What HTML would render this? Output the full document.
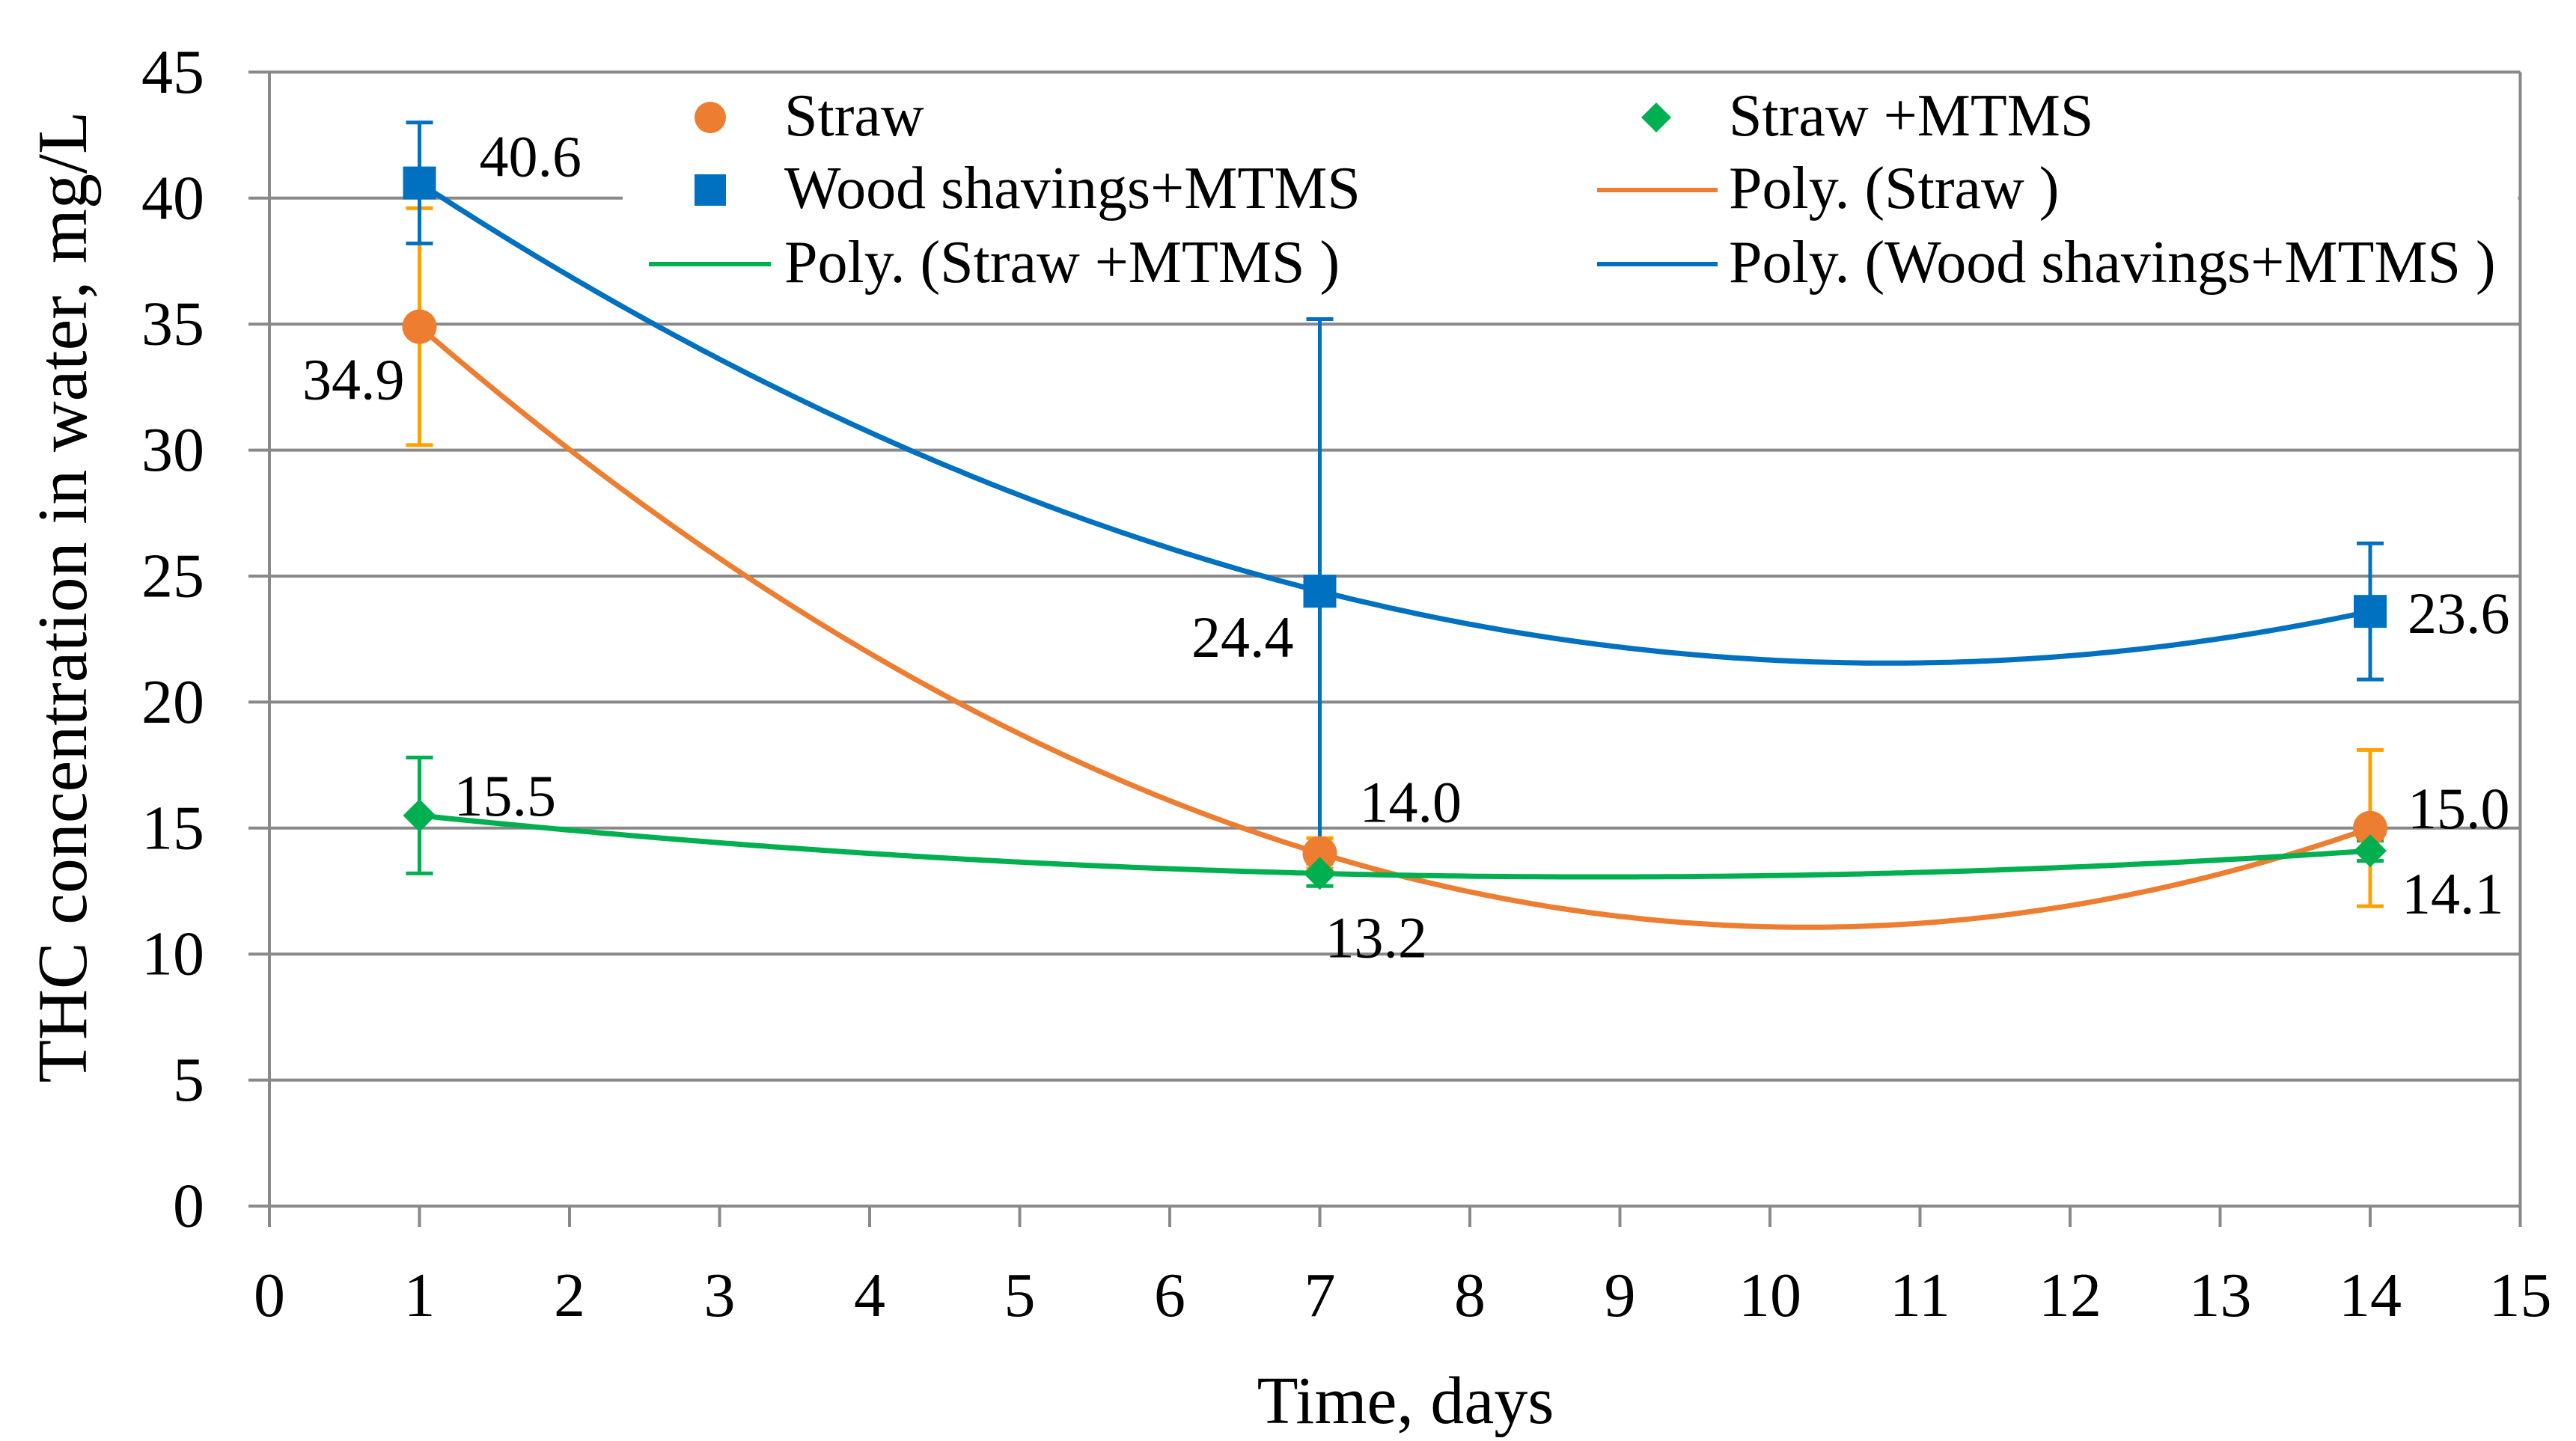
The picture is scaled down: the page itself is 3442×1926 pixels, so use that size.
<!DOCTYPE html>
<html><head><meta charset="utf-8"><style>
html,body{margin:0;padding:0;background:#fff;}
svg text{font-family:"Liberation Serif",serif;fill:#000;}
</style></head><body>
<svg id="chart" width="3442" height="1921" xmlns="http://www.w3.org/2000/svg">
<g id="grid"></g>
<g id="axes"></g>
<g id="legend"></g>
<g id="series"></g>
<text x="1878" y="1902" font-size="90" text-anchor="middle">Time, days</text>
<text transform="translate(84,798) rotate(-90)" font-size="94" text-anchor="middle" dominant-baseline="central">THC concentration in water, mg/L</text>
</svg>
<script>
const days = [1, 7, 14];
const strawVals = [34.9, 14.0, 15.0];
const strawErr = [4.7, 0.6, 3.1];
const woodVals = [40.6, 24.4, 23.6];
const woodErr = [2.4, 10.8, 2.7];
const mtmsVals = [15.5, 13.2, 14.1];
const mtmsErr = [2.3, 0.5, 0.4];
const xTicks = [0,1,2,3,4,5,6,7,8,9,10,11,12,13,14,15];
const yTicks = [0,5,10,15,20,25,30,35,40,45];
const strawLabels = ["34.9","14.0","15.0"];
const woodLabels = ["40.6","24.4","23.6"];
const mtmsLabels = ["15.5","13.2","14.1"];

const NS="http://www.w3.org/2000/svg";
const X0=360, XU=200.5, Y0=1612, YU=33.68;
const sx=v=>X0+v*XU, sy=v=>Y0-v*YU;
function mk(tag,attrs,parent){const e=document.createElementNS(NS,tag);for(const k in attrs)e.setAttribute(k,attrs[k]);parent.appendChild(e);return e;}
const grid=document.getElementById('grid'),axes=document.getElementById('axes'),legend=document.getElementById('legend'),series=document.getElementById('series');
const GC="#898989";
yTicks.forEach(t=>{
  const l=mk('line',{x1:sx(0)-28,x2:sx(15),y1:sy(t),y2:sy(t),stroke:GC,'stroke-width':4},grid);
  
  
  const tx=mk('text',{x:273,y:sy(t),'font-size':84,'text-anchor':'end','dominant-baseline':'central'},axes);
  tx.textContent=t;
  
  
});
xTicks.forEach(t=>{
  const l=mk('line',{x1:sx(t),x2:sx(t),y1:sy(0),y2:sy(0)+28,stroke:GC,'stroke-width':4},axes);
  
  
  const tx=mk('text',{x:sx(t),y:1759,'font-size':84,'text-anchor':'middle'},axes);
  tx.textContent=t;
  
  
});
const la=mk('line',{x1:sx(0),x2:sx(0),y1:sy(45),y2:sy(0)+28,stroke:GC,'stroke-width':4},axes);


const ra=mk('line',{x1:sx(15),x2:sx(15),y1:sy(45),y2:sy(0)+28,stroke:GC,'stroke-width':4},axes);



const lb=mk('rect',{x:832,y:110,width:sx(15)-832-3,height:300,fill:'#fff'},legend);



function quad(xs,ys){
  return x=>{let s=0;for(let i=0;i<3;i++){let p=ys[i];for(let j=0;j<3;j++)if(j!==i)p*=(x-xs[j])/(xs[i]-xs[j]);s+=p;}return s;};
}
const defs=[
 {name:'straw',vals:strawVals,err:strawErr,col:'#ED7D31',ecol:'#FFA000',marker:'circle',labels:strawLabels,offs:[[-20,97,'end'],[53,-42,'start'],[50,0,'start']]},
 {name:'wood',vals:woodVals,err:woodErr,col:'#0070C0',ecol:'#0070C0',marker:'square',labels:woodLabels,offs:[[80,-9,'start'],[-35,88,'end'],[50,29,'start']]},
 {name:'straw-mtms',vals:mtmsVals,err:mtmsErr,col:'#00B050',ecol:'#00B050',marker:'diamond',labels:mtmsLabels,offs:[[46,0,'start'],[7,112,'start'],[42,84,'start']]}
];
defs.forEach(d=>{
  const f=quad(days,d.vals);let pts=[];
  for(let x=days[0];x<=days[2]+1e-9;x+=0.05)pts.push(sx(x).toFixed(1)+','+sy(f(x)).toFixed(1));
  const p=mk('polyline',{points:pts.join(' '),fill:'none',stroke:d.col,'stroke-width':7},series);
  
  
});
function marker(type,x,y,col,parent){
  let e;
  if(type==='circle')e=mk('circle',{cx:x,cy:y,r:23,fill:col},parent);
  else if(type==='square')e=mk('rect',{x:x-22,y:y-22,width:44,height:44,fill:col},parent);
  else e=mk('polygon',{points:`${x},${y-22} ${x+22},${y} ${x},${y+22} ${x-22},${y}`,fill:col},parent);
  return e;
}
defs.forEach(d=>{
  days.forEach((dd,i)=>{
    const x=sx(dd),y1=sy(d.vals[i]+d.err[i]),y2=sy(d.vals[i]-d.err[i]);
    const g=mk('g',{},series);
    
    
    mk('line',{x1:x,x2:x,y1:y1,y2:y2,stroke:d.ecol,'stroke-width':5},g);
    mk('line',{x1:x-18,x2:x+18,y1:y1,y2:y1,stroke:d.ecol,'stroke-width':5},g);
    mk('line',{x1:x-18,x2:x+18,y1:y2,y2:y2,stroke:d.ecol,'stroke-width':5},g);
  });
});
defs.forEach(d=>{
  days.forEach((dd,i)=>{
    const x=sx(dd),y=sy(d.vals[i]);
    const m=marker(d.marker,x,y,d.col,series);
    
    
    const o=d.offs[i];
    const t=mk('text',{x:x+o[0],y:y+o[1],'font-size':78,'text-anchor':o[2]},series);
    t.textContent=d.labels[i];
    
    
  });
});
const leg=[
 {type:'circle',col:'#ED7D31',x:949,tx:1048,y:157,text:'Straw'},
 {type:'diamond',col:'#00B050',x:2213,tx:2310,y:157,text:'Straw +MTMS'},
 {type:'square',col:'#0070C0',x:949,tx:1048,y:254,text:'Wood shavings+MTMS'},
 {type:'line',col:'#ED7D31',x1:2134,x2:2295,tx:2310,y:254,text:'Poly. (Straw )'},
 {type:'line',col:'#00B050',x1:867,x2:1030,tx:1048,y:353,text:'Poly. (Straw +MTMS )'},
 {type:'line',col:'#0070C0',x1:2134,x2:2295,tx:2310,y:353,text:'Poly. (Wood shavings+MTMS )'}
];
leg.forEach(L=>{
  const g=mk('g',{},legend);
  
  
  if(L.type==='line')mk('line',{x1:L.x1,x2:L.x2,y1:L.y,y2:L.y,stroke:L.col,'stroke-width':6},g);
  else if(L.type==='circle')mk('circle',{cx:L.x,cy:L.y,r:21,fill:L.col},g);
  else if(L.type==='square')mk('rect',{x:L.x-21,y:L.y-21,width:42,height:42,fill:L.col},g);
  else mk('polygon',{points:`${L.x},${L.y-20} ${L.x+20},${L.y} ${L.x},${L.y+20} ${L.x-20},${L.y}`,fill:L.col},g);
  const t=mk('text',{x:L.tx,y:L.y+24,'font-size':80},g);
  t.textContent=L.text;
});
</script>
</body></html>
